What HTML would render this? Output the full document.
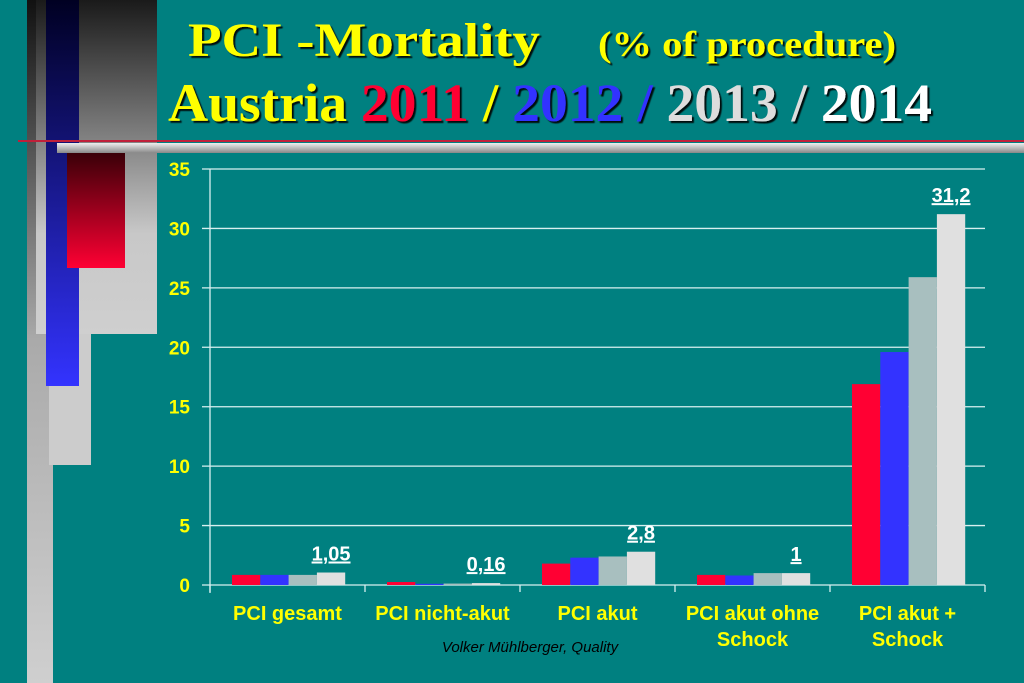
<!DOCTYPE html>
<html><head><meta charset="utf-8"><style>
html,body{margin:0;padding:0;background:#008080;}
svg{display:block;}
</style></head><body>
<svg width="1024" height="683" viewBox="0 0 1024 683" xmlns="http://www.w3.org/2000/svg">
<defs>
<linearGradient id="gcol" x1="0" y1="0" x2="0" y2="1"><stop offset="0" stop-color="#111"/><stop offset="0.5" stop-color="#aaa"/><stop offset="1" stop-color="#cfcfcf"/></linearGradient>
<linearGradient id="gbig" x1="0" y1="0" x2="0" y2="1"><stop offset="0" stop-color="#1a1a1a"/><stop offset="0.7" stop-color="#c8c8c8"/><stop offset="1" stop-color="#cfcfcf"/></linearGradient>
<linearGradient id="gblue" x1="0" y1="0" x2="0" y2="1"><stop offset="0" stop-color="#000022"/><stop offset="1" stop-color="#3333ff"/></linearGradient>
<linearGradient id="gred" x1="0" y1="0" x2="0" y2="1"><stop offset="0" stop-color="#3a0008"/><stop offset="1" stop-color="#ff0033"/></linearGradient>
<linearGradient id="gbar" x1="0" y1="0" x2="0" y2="1"><stop offset="0" stop-color="#eee"/><stop offset="1" stop-color="#888"/></linearGradient>
<filter id="sh"><feDropShadow dx="2" dy="2" stdDeviation="0.5" flood-color="#000" flood-opacity="0.9"/></filter>
</defs>
<rect width="1024" height="683" fill="#008080"/>
<g>
<rect x="27" y="0" width="26" height="683" fill="url(#gcol)"/>
<rect x="36" y="0" width="121" height="334" fill="url(#gbig)"/>
<rect x="49" y="334" width="42" height="131" fill="#cccccc"/>
<rect x="46" y="0" width="33" height="386" fill="url(#gblue)"/>
<rect x="57" y="143" width="967" height="10" fill="url(#gbar)"/>
<rect x="67" y="153" width="58" height="115" fill="url(#gred)"/>
<rect x="18" y="140" width="1006" height="2" fill="#c0203a"/>
</g>
<g font-family="'Liberation Serif',serif" font-weight="bold" filter="url(#sh)">
<text x="188" y="56" font-size="48" fill="#ffff00" textLength="352" lengthAdjust="spacingAndGlyphs">PCI -Mortality</text>
<text x="598" y="56" font-size="36" fill="#ffff00" textLength="298" lengthAdjust="spacingAndGlyphs">(% of procedure)</text>
<text x="168" y="121" font-size="54" textLength="764" lengthAdjust="spacingAndGlyphs"><tspan fill="#ffff00">Austria </tspan><tspan fill="#ff0033">2011</tspan><tspan fill="#ffff00"> / </tspan><tspan fill="#3333ff">2012 /</tspan><tspan fill="#dddddd"> 2013 / </tspan><tspan fill="#ffffff">2014</tspan></text>
</g>
<g id="chart"></g>
<text x="530" y="652" text-anchor="middle" font-family="'Liberation Sans',sans-serif" font-style="italic" font-size="15" fill="#000">Volker Mühlberger, Quality</text>
</svg>
<script>
const categories=[["PCI gesamt"],["PCI nicht-akut"],["PCI akut"],["PCI akut ohne","Schock"],["PCI akut +","Schock"]];
const s2011=[0.85,0.25,1.8,0.85,16.9];
const s2012=[0.85,0.1,2.3,0.8,19.6];
const s2013=[0.85,0.12,2.4,1.0,25.9];
const s2014=[1.05,0.16,2.8,1.0,31.2];
const valueLabels=["1,05","0,16","2,8","1","31,2"];
const yTicks=[0,5,10,15,20,25,30,35];
const NS="http://www.w3.org/2000/svg";
const g=document.getElementById('chart');
const x0=210,x1=985,y0=585,y1=169,yMax=35;
const cw=(x1-x0)/categories.length;
function ys(v){return y0-(v/yMax)*(y0-y1);}
function mk(t,a,p){const e=document.createElementNS(NS,t);for(const k in a)e.setAttribute(k,a[k]);(p||g).appendChild(e);return e;}
yTicks.forEach(t=>{
  const l=mk('line',{x1:x0-8,x2:x1,y1:ys(t),y2:ys(t),stroke:'#d8f0f0','stroke-width':1.3});
  
  
  const tx=mk('text',{x:190,y:ys(t)+7,'text-anchor':'end','font-family':"'Liberation Sans',sans-serif",'font-weight':'bold','font-size':19,fill:'#ffff00'});
  tx.textContent=t;
  
  
});
const ax=mk('line',{x1:x0,x2:x0,y1:y1,y2:y0+8,stroke:'#d8f0f0','stroke-width':1.3});


for(let i=0;i<=categories.length;i++){
  const t=mk('line',{x1:x0+i*cw,x2:x0+i*cw,y1:y0,y2:y0+7,stroke:'#d8f0f0','stroke-width':1.3});
  
  
}
const series=[s2011,s2012,s2013,s2014];
const colors=['#ff0033','#3333ff','#a8bfbf','#e0e0e0'];
const bw=28.3;
categories.forEach((c,i)=>{
  const gx=x0+i*cw+22;
  series.forEach((s,j)=>{
    const r=mk('rect',{x:gx+j*bw,y:ys(s[i]),width:bw,height:y0-ys(s[i]),fill:colors[j]});
    
    
  });
  const cx=gx+3.5*bw, vy=ys(s2014[i])-12;
  const vt=mk('text',{x:cx,y:vy,'text-anchor':'middle','font-family':"'Liberation Sans',sans-serif",'font-weight':'bold','font-size':20,fill:'#fff','text-decoration':'underline'});
  vt.textContent=valueLabels[i];
  
  
  c.forEach((ln,k)=>{
    const xt=mk('text',{x:x0+i*cw+cw/2,y:620+k*26,'text-anchor':'middle','font-family':"'Liberation Sans',sans-serif",'font-weight':'bold','font-size':20,fill:'#ffff00'});
    xt.textContent=ln;
    
    
  });
});
</script>
</body></html>
